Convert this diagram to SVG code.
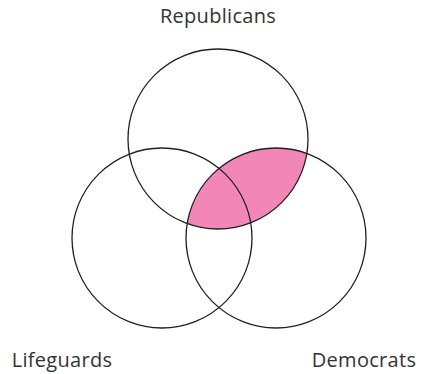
<svg xmlns="http://www.w3.org/2000/svg" width="422" height="374" viewBox="0 0 422 374">
<style>
.c{fill:none;stroke:#231f20;stroke-width:1.3}
.t{font-family:"Open Sans","Liberation Sans",sans-serif;font-size:20px;letter-spacing:0.3px;fill:#333;text-anchor:middle}
</style>
<rect width="422" height="374" fill="#fff"/>
<g id="shade">
<path d="M187.2 223.6 A90 90 0 0 1 306.8 153.4 A90 90 0 0 1 187.2 223.6 Z" fill="#f287b7"/>
</g>
<g id="republicans">
<circle class="c" cx="218" cy="139" r="90"/>
<text class="t" x="218" y="23">Republicans</text>
</g>
<g id="lifeguards">
<circle class="c" cx="162" cy="238" r="90"/>
<text class="t" x="62" y="367">Lifeguards</text>
</g>
<g id="democrats">
<circle class="c" cx="276" cy="238" r="90"/>
<text class="t" x="364" y="367">Democrats</text>
</g>
<g id="connectors"></g>
</svg>
